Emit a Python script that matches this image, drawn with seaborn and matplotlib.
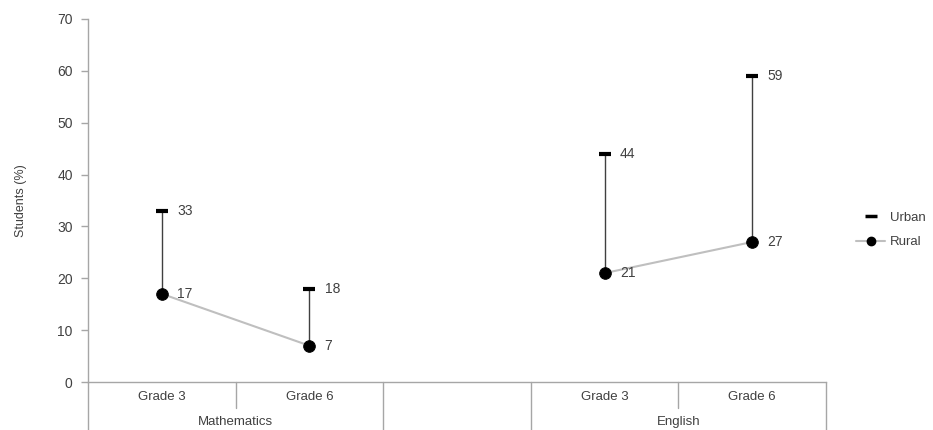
import pandas as pd
import numpy as np
import matplotlib
matplotlib.use('Agg')
import matplotlib.pyplot as plt
from matplotlib.lines import Line2D
import seaborn as sns

# Data
grades = ['Grade 3', 'Grade 6', '', 'Grade 3', 'Grade 6']
subjects = ['Mathematics', 'English']
subject_of = ['Mathematics', 'Mathematics', None, 'English', 'English']
urban = [33, 18, None, 44, 59]
rural = [17, 7, None, 21, 27]

sns.set_style('white')
plt.rcParams['font.family'] = ['Liberation Sans', 'DejaVu Sans']

rows = []
for i, (s, u, r) in enumerate(zip(subject_of, urban, rural)):
    if s is None:
        continue
    rows.append({'pos': i, 'subject': s, 'urban': u, 'rural': r})
df = pd.DataFrame(rows)

W, H = 933, 430
fig = plt.figure(figsize=(W / 100, H / 100), dpi=100)
x0, x1, ytop, ybot = 88, 826, 19, 382
ax = fig.add_axes([x0 / W, (H - ybot) / H, (x1 - x0) / W, (ybot - ytop) / H])

grey = '#bfbfbf'
axis_grey = '#a6a6a6'
text_col = '#404040'

# high-low lines
ax.vlines(df['pos'], df['rural'], df['urban'], color='#404040', lw=1.0, zorder=2)

# rural connecting lines per subject
sns.lineplot(data=df, x='pos', y='rural', units='subject', estimator=None,
             color=grey, lw=1.5, ax=ax, zorder=1)

# markers
ax.plot(df['pos'], df['urban'], ls='none', marker='_', ms=8, mew=3, color='black', zorder=3)
sns.scatterplot(data=df, x='pos', y='rural', color='black', s=70, edgecolor='black',
                ax=ax, zorder=4, legend=False)

# value labels
for _, r in df.iterrows():
    for v in (r['urban'], r['rural']):
        ax.annotate(f'{v:g}', (r['pos'], v), xytext=(11, 0), textcoords='offset points',
                    va='center', ha='left', fontsize=10, color=text_col)

ax.set_xlim(-0.5, 4.5)
ax.set_ylim(0, 70)
ax.set_yticks(range(0, 71, 10))
ax.set_xticks([])
ax.set_xlabel('')
ax.set_ylabel('Students (%)', fontsize=9, color=text_col, labelpad=22)
ax.tick_params(axis='y', direction='out', length=5, width=1, color=axis_grey,
               labelsize=10, labelcolor=text_col, pad=6, left=True)
for sp in ['top', 'right']:
    ax.spines[sp].set_visible(False)
for sp in ['left', 'bottom']:
    ax.spines[sp].set_color(axis_grey)
    ax.spines[sp].set_linewidth(1)

# multi-level category axis
tr = ax.get_xaxis_transform()
full = -(H - ybot) / (ybot - ytop)
short = -26 / (ybot - ytop)
for xs, yend in [(-0.5, full), (0.5, short), (1.5, full), (2.5, full), (3.5, short), (4.5, full)]:
    ax.plot([xs, xs], [0, yend], transform=tr, color=axis_grey, lw=1, clip_on=False)
for i, g in enumerate(grades):
    if g:
        ax.text(i, -15 / (ybot - ytop), g, transform=tr, ha='center', va='center',
                fontsize=9.5, color=text_col)
ax.text(0.5, -40 / (ybot - ytop), 'Mathematics', transform=tr, ha='center', va='center',
        fontsize=9.5, color=text_col)
ax.text(3.5, -40 / (ybot - ytop), 'English', transform=tr, ha='center', va='center',
        fontsize=9.5, color=text_col)

# legend
handles = [
    Line2D([], [], ls='none', marker='_', ms=8, mew=2.5, color='black'),
    Line2D([], [], color=grey, lw=1.5, marker='o', ms=6, mfc='black', mec='black'),
]
fig.legend(handles, ['Urban', 'Rural'], loc='center left', bbox_to_anchor=(856 / W, 1 - 230 / H),
           frameon=False, fontsize=9.5, handlelength=2.2, labelspacing=0.9, handletextpad=0.4,
           labelcolor=text_col, borderaxespad=0, borderpad=0)

fig.savefig('out.png', dpi=100)
